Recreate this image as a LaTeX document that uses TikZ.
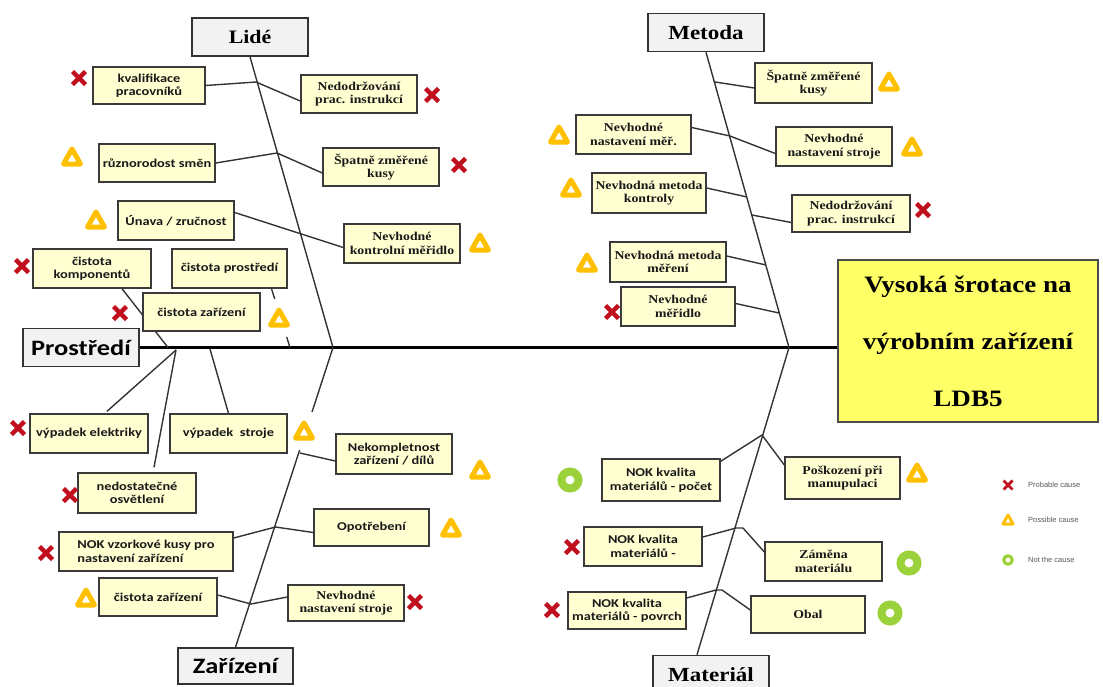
\documentclass[tikz,border=0pt]{standalone}
\usepackage{fontspec}
\usetikzlibrary{calc}
\newfontfamily\boxsans[FakeStretch=1.2]{Carlito}
\newfontfamily\boxserif[FakeStretch=1.15]{Liberation Serif}
\newfontfamily\legendfont{Liberation Sans}

\definecolor{boxfill}{HTML}{FFFFD2}
\definecolor{boxline}{HTML}{3A3A3A}
\definecolor{catfill}{HTML}{F2F2F2}
\definecolor{headfill}{HTML}{FFFF66}
\definecolor{xred}{HTML}{C0101E}
\definecolor{tyellow}{HTML}{FFC000}
\definecolor{cgreen}{HTML}{9BD13A}
\definecolor{bone}{HTML}{333333}

\pgfdeclarelayer{bg}
\pgfsetlayers{bg,main}

\begin{document}
\begin{tikzpicture}[x=1pt,y=-1pt,
  causebox/.style={rectangle, draw=boxline, fill=boxfill, line width=1.4pt,
    inner sep=0pt, align=center, text=black!90},
  cbox/.style={causebox, font=\boxsans\bfseries\fontsize{12}{13.5}\selectfont},
  sbox/.style={causebox, font=\boxserif\bfseries\fontsize{12}{13.5}\selectfont},
  catbox/.style={rectangle, draw=black!80, fill=catfill, line width=1.6pt,
    inner sep=0pt, minimum width=116pt, minimum height=38pt, text=black},
  catserif/.style={catbox, font=\boxserif\bfseries\fontsize{20}{22}\selectfont},
  catsans/.style={catbox, font=\boxsans\bfseries\fontsize{22}{24}\selectfont},
  rib/.style={draw=bone, line width=1.4pt},
  spine/.style={draw=black, line width=3.6pt},
  xmark/.pic={\draw[xred, line width=4.4pt] (-6.5,-6.5) -- (6.5,6.5) (-6.5,6.5) -- (6.5,-6.5);},
  warn/.pic={\draw[tyellow, line width=5pt, line join=round, fill=white]
      (0,-8) -- (8.5,7) -- (-8.5,7) -- cycle;},
  warnmask/.pic={\fill[white] (-14,-19) rectangle (14,19);
    \draw[tyellow, line width=5pt, line join=round, fill=white]
      (0,-8) -- (8.5,7) -- (-8.5,7) -- cycle;},
  okring/.pic={\draw[cgreen, line width=8pt] (0,0) circle (8.5);},
  legtext/.style={anchor=west, inner sep=0pt, text=black!65,
    font=\legendfont\fontsize{7.5}{9}\selectfont}
]
\begin{pgfonlayer}{bg}
  \fill[white] (0,0) rectangle (1103,686);
\end{pgfonlayer}
\useasboundingbox (0,0) rectangle (1103,686);

% ---- effect ----
\node[rectangle, draw=black!70, fill=headfill, line width=1.5pt, inner sep=0pt,
  minimum width=260pt, minimum height=162pt, align=center,
  font=\boxserif\bfseries\fontsize{23.5}{57}\selectfont] (head) at (968,341)
  {Vysoká šrotace na\\výrobním zařízení\\LDB5};

% ---- categories ----
\node[catserif, font=\boxserif\bfseries\fontsize{19}{21}\selectfont] (lide) at (250,37) {Lidé};
\node[catserif] (metoda) at (706,32.5) {Metoda};
\node[catsans] (prost) at (81,347.5) {Prostředí};
\node[catsans, minimum height=36pt, minimum width=115pt] (zariz) at (235.5,666) {Zařízení};
\node[catserif] (mat) at (711,674.5) {Materiál};

% ---- Lidé ----
\node[cbox, minimum width=112pt, minimum height=37pt] (L1) at (149,85.5) {kvalifikace\\pracovníků};
\node[sbox, minimum width=116pt, minimum height=38pt] (L2) at (359,94) {Nedodržování\\prac. instrukcí};
\node[cbox, minimum width=116pt, minimum height=38pt] (L3) at (157,163) {různorodost směn};
\node[sbox, minimum width=116pt, minimum height=38pt] (L4) at (381,167) {Špatně změřené\\kusy};
\node[cbox, minimum width=116pt, minimum height=39pt] (L5) at (176,220.5) {Únava / zručnost};
\node[sbox, minimum width=116pt, minimum height=39pt] (L6) at (402,243.5) {Nevhodné\\kontrolní měřidlo};

% ---- Prostředí ----
\node[cbox, minimum width=118pt, minimum height=39pt] (P1) at (92,268.5) {čistota\\komponentů};
\node[cbox, minimum width=115pt, minimum height=39pt] (P2) at (229.5,268.5) {čistota prostředí};
\node[cbox, minimum width=117pt, minimum height=38pt] (P3) at (201.5,312) {čistota zařízení};
\node[cbox, minimum width=118pt, minimum height=39pt] (P4) at (89,433.5) {výpadek elektriky};
\node[cbox, minimum width=117pt, minimum height=39pt] (P5) at (228.5,433.5) {výpadek\ \ stroje};
\node[cbox, minimum width=118pt, minimum height=40pt] (P6) at (137,493) {nedostatečné\\osvětlení};

% ---- Zařízení ----
\node[cbox, minimum width=116pt, minimum height=40pt] (Z1) at (394,454) {Nekompletnost\\zařízení / dílů};
\node[cbox, minimum width=115pt, minimum height=37pt] (Z2) at (371.5,527.5) {Opotřebení};
\node[cbox, minimum width=174pt, minimum height=39pt, align=left] (Z3) at (146,551.5) {NOK vzorkové kusy pro\\nastavení zařízení};
\node[cbox, minimum width=118pt, minimum height=38pt] (Z4) at (158,597) {čistota zařízení};
\node[sbox, minimum width=116pt, minimum height=36pt] (Z5) at (346,603) {Nevhodné\\nastavení stroje};

% ---- Metoda ----
\node[sbox, minimum width=117pt, minimum height=40pt] (M1) at (813.5,83) {Špatně změřené\\kusy};
\node[sbox, minimum width=115pt, minimum height=39pt] (M2) at (633.5,134.5) {Nevhodné\\nastavení měř.};
\node[sbox, minimum width=116pt, minimum height=39pt] (M3) at (834,146.5) {Nevhodné\\nastavení stroje};
\node[sbox, minimum width=114pt, minimum height=40pt] (M4) at (649,193) {Nevhodná metoda\\kontroly};
\node[sbox, minimum width=118pt, minimum height=37pt] (M5) at (851,213.5) {Nedodržování\\prac. instrukcí};
\node[sbox, minimum width=116pt, minimum height=40pt] (M6) at (668,262) {Nevhodná metoda\\měření};
\node[sbox, minimum width=114pt, minimum height=39pt] (M7) at (678,306.5) {Nevhodné\\měřidlo};

% ---- Materiál ----
\node[cbox, minimum width=118pt, minimum height=42pt] (T1) at (661,480) {NOK kvalita\\materiálů - počet};
\node[sbox, minimum width=115pt, minimum height=42pt] (T2) at (842.5,478) {Poškození při\\manupulaci};
\node[cbox, minimum width=118pt, minimum height=39pt] (T3) at (643,546.5) {NOK kvalita\\materiálů -};
\node[sbox, minimum width=117pt, minimum height=39pt] (T4) at (823.5,561.5) {Záměna\\materiálu};
\node[cbox, minimum width=118pt, minimum height=37pt] (T5) at (627,610.5) {NOK kvalita\\materiálů - povrch};
\node[sbox, minimum width=114pt, minimum height=37pt] (T6) at (808,614.5) {Obal};

% ---- junctions on the bones ----
\coordinate (jl) at (333,347.5);
\coordinate (jm) at (789,347.5);
\coordinate (jl1) at (256,82);
\coordinate (jl2) at (277,153);
\coordinate (jp1) at (168,347.5);
\coordinate (jp2) at (290,347.5);
\coordinate (jp3) at (176,350);
\coordinate (jp4) at (210,349);
\coordinate (jz1) at (300,453);
\coordinate (jz2) at (275.5,527);
\coordinate (jz3) at (251,604);
\coordinate (jm1) at (715,82);
\coordinate (jm2) at (730,136);
\coordinate (jm3) at (747,197);
\coordinate (jm4) at (752,215);
\coordinate (jm5) at (766,265);
\coordinate (jm6) at (779,313);
\coordinate (jt1) at (762,435);
\coordinate (jt2a) at (736,528);
\coordinate (jt2b) at (743,528);
\coordinate (jt3a) at (716,590);
\coordinate (jt3b) at (722,590);

\begin{pgfonlayer}{bg}
  % main bone
  \draw[spine] (prost.east) -- (prost.east -| head.west);
  % category bones
  \draw[rib] (lide.south) -- (jl);
  \draw[rib] (zariz.north) -- (jl);
  \draw[rib] (metoda.south) -- (jm);
  \draw[rib] ([xshift=-14pt]mat.north) -- (jm);
  % Lidé causes
  \draw[rib] (L1.east) -- (jl1) -- ([yshift=-7pt]L2.west);
  \draw[rib] (L3.east) -- (jl2) -- ([yshift=-6pt]L4.west);
  \draw[rib] ([yshift=8pt]L5.east) -- ([yshift=-4pt]L6.west);
  % Prostředí causes
  \draw[rib] ([xshift=30pt]P1.south) -- (jp1);
  \draw[rib] ([xshift=42pt]P2.south) -- (jp2);
  \draw[rib] (jp3) -- ([xshift=18pt,yshift=2pt]P4.north);
  \draw[rib] (jp3) -- ([xshift=17pt,yshift=5pt]P6.north);
  \draw[rib] (jp4) -- (P5.north);
  % Zařízení causes
  \draw[rib] (jz1) -- ([yshift=-7pt]Z1.west);
  \draw[rib] ([yshift=13.5pt]Z3.east) -- (jz2) -- ([yshift=-5pt]Z2.west);
  \draw[rib] ([yshift=2pt]Z4.east) -- (jz3) -- ([yshift=6pt]Z5.west);
  % Metoda causes
  \draw[rib] (jm1) -- ([yshift=-5pt]M1.west);
  \draw[rib] ([yshift=7pt]M2.east) -- (jm2) -- ([yshift=-7pt]M3.west);
  \draw[rib] ([yshift=5pt]M4.east) -- (jm3);
  \draw[rib] (jm4) -- ([yshift=-9pt]M5.west);
  \draw[rib] ([yshift=6pt]M6.east) -- (jm5);
  \draw[rib] ([yshift=3pt]M7.east) -- (jm6);
  % Materiál causes
  \draw[rib] ([yshift=-3pt]T1.north east) -- (jt1) -- ([yshift=13pt]T2.west);
  \draw[rib] ([yshift=9.5pt]T3.east) -- (jt2a) -- (jt2b) -- ([yshift=9.5pt]T4.west);
  \draw[rib] ([yshift=12.5pt]T5.east) -- (jt3a) -- (jt3b) -- ([yshift=4.5pt]T6.west);
\end{pgfonlayer}

% ---- ratings ----
\pic (xL1) at (79,78) {xmark};
\pic (xL2) at (432,95) {xmark};
\pic (xL4) at (459,165) {xmark};
\pic (xP1) at (22,266) {xmark};
\pic (xP3) at (120,313) {xmark};
\pic (xP4) at (18,428) {xmark};
\pic (xP6) at (70,495) {xmark};
\pic (xZ3) at (46,553) {xmark};
\pic (xZ5) at (415,602) {xmark};
\pic (xM5) at (923,210) {xmark};
\pic (xM7) at (612,312) {xmark};
\pic (xT3) at (572,547) {xmark};
\pic (xT5) at (552,610) {xmark};

\pic (wL3) at (72,157) {warn};
\pic (wL5) at (96,220) {warn};
\pic (wL6) at (480,243) {warn};
\pic (wP2) at (279,318) {warnmask};
\pic (wP5) at (304,431) {warnmask};
\pic (wZ1) at (480,470) {warn};
\pic (wZ2) at (451,528) {warn};
\pic (wZ4) at (86,598) {warn};
\pic (wM1) at (889,82) {warn};
\pic (wM2) at (559,135) {warn};
\pic (wM3) at (912,147) {warn};
\pic (wM4) at (571,188) {warn};
\pic (wM6) at (587,263) {warn};
\pic (wT2) at (917,473) {warn};

\pic (oT1) at (570,480) {okring};
\pic (oT4) at (909,563) {okring};
\pic (oT6) at (890,613) {okring};

% ---- legend ----
\draw[xred, line width=2.8pt] (1003.5,480.5) -- (1012.5,489.5) (1003.5,489.5) -- (1012.5,480.5);
\draw[tyellow, line width=3pt, line join=round, fill=white] (1008,515) -- (1013,524) -- (1003,524) -- cycle;
\draw[cgreen, line width=3.2pt] (1008,560) circle (4.2);
\node[legtext] (lg1) at (1028,485) {Probable cause};
\node[legtext] (lg2) at (1028,520) {Possible cause};
\node[legtext] (lg3) at (1028,560) {Not the cause};
\end{tikzpicture}
\end{document}
